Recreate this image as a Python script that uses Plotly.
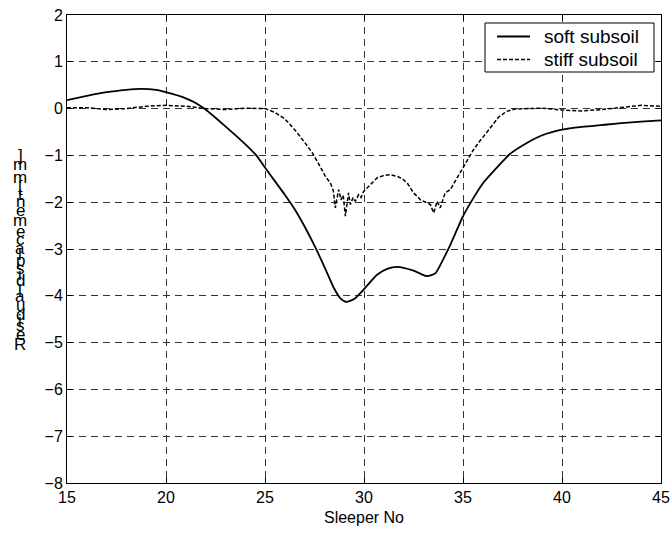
import plotly.graph_objects as go

# ---- data ----
soft_x = [15, 16, 17, 18, 18.7, 19.5, 20, 21, 21.5, 22, 23, 24, 24.6, 25, 25.5, 26, 26.5, 27, 27.5,
          28, 28.5, 28.8, 29.1, 29.5, 29.98, 30.66, 31.2, 31.67, 32.5, 33.18, 33.6, 34.0, 34.36, 35.0,
          35.37, 36.0, 37.0, 37.34, 38.2, 39.0, 40.0, 41.0, 42.27, 43.0, 44.0, 45.0]
soft_y = [0.18, 0.27, 0.35, 0.40, 0.42, 0.40, 0.35, 0.22, 0.12, -0.02, -0.38, -0.76, -1.02, -1.26,
          -1.55, -1.84, -2.15, -2.52, -2.93, -3.38, -3.85, -4.05, -4.13, -4.07, -3.87, -3.55, -3.42,
          -3.38, -3.46, -3.58, -3.52, -3.22, -2.91, -2.30, -2.02, -1.60, -1.13, -0.98, -0.74, -0.57,
          -0.45, -0.39, -0.34, -0.31, -0.28, -0.25]

stiff_x = [15, 16, 17, 18, 19, 20, 21, 22, 23, 24, 25, 25.5, 26, 26.5, 27, 27.4, 27.8, 28.05, 28.3,
           28.45, 28.55, 28.72, 28.84, 28.95, 29.06, 29.22, 29.31, 29.45, 29.56, 29.73, 29.85, 29.98,
           30.1, 30.23, 30.4, 30.66, 31.0, 31.33, 31.7, 32.0, 32.2, 32.34, 32.5, 32.7, 32.85, 33.0,
           33.18, 33.35, 33.52, 33.69, 33.85, 34.1, 34.36, 34.6, 34.8, 35.0, 35.2, 35.5, 35.8, 36.04,
           36.4, 36.8, 37.2, 37.6, 38, 39, 40, 41, 42, 43, 44, 45]
stiff_y = [0.02, 0.02, -0.02, 0.00, 0.05, 0.07, 0.05, 0.00, -0.02, 0.01, 0.00, -0.08, -0.22, -0.45,
           -0.72, -0.95, -1.25, -1.45, -1.59, -1.75, -2.12, -1.73, -1.95, -1.85, -2.30, -1.80, -2.05,
           -1.90, -1.98, -1.84, -1.90, -1.77, -1.72, -1.66, -1.60, -1.48, -1.43, -1.41, -1.45, -1.52,
           -1.60, -1.70, -1.80, -1.88, -1.95, -1.98, -2.02, -2.05, -2.23, -1.98, -2.12, -1.80, -1.73,
           -1.55, -1.40, -1.25, -1.13, -0.90, -0.72, -0.60, -0.40, -0.18, -0.06, -0.01, 0.00, 0.01,
           -0.03, -0.05, -0.02, 0.03, 0.07, 0.05]

x_ticks = [15, 20, 25, 30, 35, 40, 45]
y_ticks = [2, 1, 0, -1, -2, -3, -4, -5, -6, -7, -8]
series_names = ["soft subsoil", "stiff subsoil"]
x_title = "Sleeper No"
y_title = "Residual displacement [mm]"

FONT = "Liberation Sans, Arial, sans-serif"
SOFT_LINE = dict(color="black", width=1.8)
STIFF_LINE = dict(color="black", width=1.5, dash="4px,2px")

fig = go.Figure()
fig.add_trace(go.Scatter(x=soft_x, y=soft_y, mode="lines", name=series_names[0],
                         line=dict(**SOFT_LINE, shape="spline", smoothing=0.6)))
fig.add_trace(go.Scatter(x=stiff_x, y=stiff_y, mode="lines", name=series_names[1],
                         line=STIFF_LINE))

axis_common = dict(
    showline=True, linecolor="black", linewidth=1, mirror="ticks",
    ticks="inside", ticklen=5, tickcolor="black", automargin=False,
    showgrid=True, gridcolor="#333333", gridwidth=1, griddash="7px,5px",
    zeroline=False, tickfont=dict(family=FONT, size=16, color="black"),
)

fig.update_xaxes(range=[15, 45], tickvals=x_ticks, **axis_common,
                 title=dict(text=x_title, font=dict(family=FONT, size=16, color="black"), standoff=6))
fig.update_yaxes(range=[-8, 2], tickvals=y_ticks, **axis_common)

L, T, W, H = 67, 15, 594, 468


def px_x(px):
    return (px - L) / W


def px_y(py):
    return (T + H - py) / H


# stacked-glyph y-axis label (each glyph upright, advanced by its width)
widths = {'R': 722, 'e': 556, 's': 500, 'i': 222, 'd': 556, 'u': 556, 'a': 556, 'l': 222, ' ': 278,
          'p': 556, 'c': 500, 'm': 833, 'n': 556, 't': 278, '[': 278, ']': 278}
scale = 15.6 / 1000.0
r_center_px = 344.0
start = r_center_px + widths['R'] * scale / 2
cum = 0.0
for ch in y_title:
    w = widths.get(ch, 556) * scale
    cy = start - (cum + w / 2)
    cum += w
    if ch == ' ':
        continue
    fig.add_annotation(text=ch, xref="paper", yref="paper", x=px_x(20), y=px_y(cy),
                       showarrow=False, xanchor="center", yanchor="middle",
                       font=dict(family=FONT, size=17, color="black"))

# legend box (drawn as layout shapes + text, like the original figure's legend)
fig.add_shape(type="rect", xref="paper", yref="paper",
              x0=px_x(485), x1=px_x(654), y0=px_y(72), y1=px_y(23),
              line=dict(color="black", width=1), fillcolor="white", layer="above")
legend_rows = [(series_names[0], SOFT_LINE, 36.5), (series_names[1], STIFF_LINE, 59.5)]
for name, ln, ry in legend_rows:
    fig.add_shape(type="line", xref="paper", yref="paper",
                  x0=px_x(497), x1=px_x(530), y0=px_y(ry), y1=px_y(ry),
                  line=ln, layer="above")
    fig.add_annotation(text=name, xref="paper", yref="paper", x=px_x(542), y=px_y(ry),
                       showarrow=False, xanchor="left", yanchor="middle",
                       font=dict(family=FONT, size=19, color="black"))

fig.update_layout(
    width=672, height=534,
    margin=dict(l=L, r=672 - L - W, t=T, b=534 - T - H, autoexpand=False),
    paper_bgcolor="white", plot_bgcolor="white",
    font=dict(family=FONT, size=16, color="black"),
    showlegend=False,
)

fig.write_html("out.html", config={"displayModeBar": False},
               post_script="document.body.style.margin='0';document.body.style.padding='0';")
